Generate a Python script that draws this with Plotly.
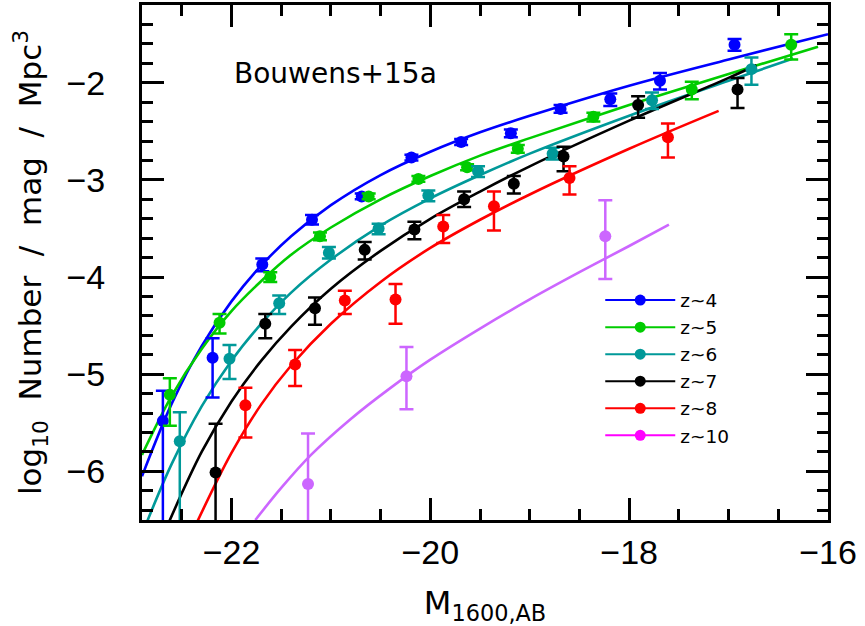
import plotly.graph_objects as go

# ---------------- data ----------------
# binned luminosity function points (M_1600, log10 phi, +err, -err)
m4 = [-22.69, -22.19, -21.69, -21.19, -20.69, -20.19, -19.69, -19.19, -18.69, -18.19, -17.69, -16.94]
p4 = [-5.48, -4.83, -3.87, -3.41, -3.17, -2.77, -2.61, -2.52, -2.27, -2.17, -1.98, -1.61]
e4u = [0.31, 0.20, 0.06, 0.05, 0.03, 0.03, 0.03, 0.04, 0.04, 0.06, 0.08, 0.06]
e4d = [2.0, 0.41, 0.07, 0.05, 0.03, 0.03, 0.03, 0.04, 0.04, 0.07, 0.09, 0.06]

m5 = [-22.62, -22.12, -21.61, -21.11, -20.62, -20.12, -19.63, -19.12, -18.36, -17.37, -16.37]
p5 = [-5.21, -4.47, -4.00, -3.58, -3.17, -2.99, -2.87, -2.68, -2.35, -2.07, -1.61]
e5u = [0.17, 0.09, 0.05, 0.04, 0.03, 0.03, 0.03, 0.04, 0.04, 0.08, 0.11]
e5d = [0.32, 0.11, 0.05, 0.04, 0.03, 0.03, 0.03, 0.04, 0.05, 0.10, 0.15]

m6 = [-22.52, -22.02, -21.52, -21.02, -20.52, -20.02, -19.52, -18.77, -17.77, -16.77]
p6 = [-5.69, -4.84, -4.27, -3.75, -3.50, -3.16, -2.91, -2.73, -2.18, -1.86]
e6u = [0.30, 0.14, 0.08, 0.06, 0.05, 0.05, 0.05, 0.06, 0.08, 0.12]
e6d = [2.0, 0.21, 0.11, 0.06, 0.06, 0.06, 0.06, 0.06, 0.09, 0.16]

m7 = [-22.16, -21.66, -21.16, -20.66, -20.16, -19.66, -19.16, -18.66, -17.91, -16.91]
p7 = [-6.01, -4.48, -4.32, -3.72, -3.51, -3.20, -3.04, -2.76, -2.23, -2.07]
e7u = [0.50, 0.10, 0.11, 0.08, 0.08, 0.08, 0.08, 0.10, 0.09, 0.12]
e7d = [2.0, 0.15, 0.17, 0.10, 0.10, 0.08, 0.10, 0.15, 0.13, 0.19]

m8 = [-21.86, -21.36, -20.86, -20.35, -19.87, -19.36, -18.60, -17.61]
p8 = [-5.32, -4.90, -4.24, -4.23, -3.48, -3.27, -2.98, -2.56]
e8u = [0.18, 0.15, 0.10, 0.16, 0.12, 0.15, 0.12, 0.14]
e8d = [0.33, 0.22, 0.14, 0.25, 0.17, 0.25, 0.17, 0.21]

m10 = [-21.23, -20.24, -18.24]
p10 = [-6.13, -5.02, -3.58]
e10u = [0.52, 0.30, 0.37]
e10d = [2.0, 0.34, 0.44]

# fitted curves, sampled along the drawn lines
f4m = [-22.9, -22.6, -22.3, -22.0, -21.7, -21.4, -21.0, -20.5, -20.0, -19.5, -19.0, -18.0, -17.0, -16.0]
f4v = [-6.05, -5.30, -4.71, -4.25, -3.88, -3.58, -3.26, -2.95, -2.71, -2.51, -2.34, -2.03, -1.76, -1.50]

f5m = [-22.9, -22.6, -22.3, -22.0, -21.7, -21.4, -21.0, -20.5, -20.0, -19.5, -19.0, -18.0, -17.0, -16.1]
f5v = [-5.83, -5.22, -4.74, -4.35, -4.04, -3.77, -3.49, -3.20, -2.96, -2.75, -2.57, -2.23, -1.91, -1.63]

f6m = [-22.85, -22.6, -22.3, -22.0, -21.7, -21.4, -21.0, -20.5, -20.0, -19.5, -19.0, -18.0, -17.0, -16.35]
f6v = [-6.52, -5.92, -5.33, -4.86, -4.48, -4.16, -3.82, -3.47, -3.19, -2.95, -2.73, -2.34, -1.98, -1.75]

f7m = [-22.65, -22.3, -22.0, -21.7, -21.4, -21.0, -20.5, -20.0, -19.5, -19.0, -18.0, -17.0, -16.72]
f7v = [-6.57, -5.80, -5.28, -4.86, -4.51, -4.12, -3.73, -3.40, -3.12, -2.86, -2.39, -1.95, -1.82]

f8m = [-22.35, -22.0, -21.7, -21.4, -21.0, -20.5, -20.0, -19.5, -19.0, -18.0, -17.1]
f8v = [-6.53, -5.81, -5.31, -4.91, -4.48, -4.05, -3.70, -3.41, -3.15, -2.68, -2.29]

f10m = [-21.76, -21.5, -21.2, -20.8, -20.4, -20.0, -19.5, -19.0, -18.5, -18.0, -17.6]
f10v = [-6.50, -6.17, -5.83, -5.46, -5.14, -4.85, -4.53, -4.23, -3.95, -3.68, -3.46]

labels = ["z~4", "z~5", "z~6", "z~7", "z~8", "z~10"]
colors = ["#0000ff", "#00cc00", "#009999", "#000000", "#ff0000", "#cc66ff"]
legend_colors = ["#0000ff", "#00cc00", "#009999", "#000000", "#ff0000", "#ff00ff"]

x_ticks = [-22, -20, -18, -16]
y_ticks = [-6, -5, -4, -3, -2]

points = [(m4, p4, e4u, e4d), (m5, p5, e5u, e5d), (m6, p6, e6u, e6d),
          (m7, p7, e7u, e7d), (m8, p8, e8u, e8d), (m10, p10, e10u, e10d)]
curves = [(f4m, f4v), (f5m, f5v), (f6m, f6v), (f7m, f7v), (f8m, f8v), (f10m, f10v)]

fig = go.Figure()

for (cx, cy), col in zip(curves, colors):
    fig.add_trace(go.Scatter(x=cx, y=cy, mode="lines", line=dict(color=col, width=2.6, shape="spline"),
                             showlegend=False, hoverinfo="skip"))

for (mx, py, eu, ed), col in zip(points, colors):
    fig.add_trace(go.Scatter(x=mx, y=py, mode="markers",
                             marker=dict(color=col, size=12),
                             error_y=dict(type="data", symmetric=False, array=eu, arrayminus=ed,
                                          color=col, thickness=2.5, width=7),
                             showlegend=False))

for lab, col in zip(labels, legend_colors):
    fig.add_trace(go.Scatter(x=[None], y=[None], mode="lines+markers", name=lab,
                             line=dict(color=col, width=2), marker=dict(color=col, size=11)))

fig.add_annotation(x=-20.95, y=-1.9, xref="x", yref="y", text="Bouwens+15a", showarrow=False,
                   font=dict(family="DejaVu Sans", size=28, color="black"), xanchor="center", yanchor="middle")

axis_common = dict(showline=True, linewidth=3, linecolor="black", mirror="ticks",
                   ticks="inside", ticklen=22, tickwidth=2.5, tickcolor="black",
                   showgrid=False, zeroline=False,
                   tickfont=dict(family="Liberation Sans", size=34, color="black"))

fig.update_layout(
    width=865, height=626,
    margin=dict(l=142, r=37, t=2, b=106),
    plot_bgcolor="white", paper_bgcolor="white",
    xaxis=dict(range=[-22.9, -16.0], tickmode="array", tickvals=x_ticks,
               minor=dict(tick0=-22, dtick=0.5, ticks="inside", ticklen=11, tickwidth=2.5, tickcolor="black"),
               title=dict(text="M<sub>1600,AB</sub>", font=dict(family="DejaVu Sans", size=32, color="black"),
                          standoff=24),
               ticklabelstandoff=0,
               **axis_common),
    yaxis=dict(range=[-6.5, -1.2], tickmode="array", tickvals=y_ticks,
               minor=dict(tick0=-6, dtick=0.2, ticks="inside", ticklen=11, tickwidth=2.5, tickcolor="black"),
               title=dict(text="log<sub>10</sub>\u00a0\u00a0Number\u00a0\u00a0/\u00a0\u00a0mag\u00a0\u00a0/\u00a0\u00a0Mpc<sup>3</sup>",
                          font=dict(family="DejaVu Sans", size=31, color="black"), standoff=16),
               ticklabelstandoff=27,
               **axis_common),
    legend=dict(x=0.668, y=0.463, xanchor="left", yanchor="top", bgcolor="rgba(0,0,0,0)",
                font=dict(family="DejaVu Sans", size=18.5, color="black"), itemwidth=70, tracegroupgap=0),
)

fig.write_html("out.html", config={"displayModeBar": False},
               post_script="document.body.style.margin='0px';")
